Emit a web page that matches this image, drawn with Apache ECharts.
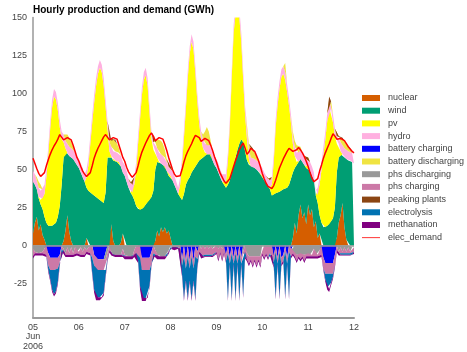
<!DOCTYPE html>
<html><head><meta charset="utf-8">
<script src="https://cdn.jsdelivr.net/npm/echarts@6/dist/echarts.min.js"></script>
<style>html,body{margin:0;padding:0;background:#fff}#c{width:467px;height:352px}</style>
</head><body><div id="c"></div>
<script>
const tickLabels = ['05\nJun\n2006','06','07','08','09','10','11','12'];
const yTicks = [-25,0,25,50,75,100,125,150];
const hours = Array.from({length:169}, (_, i) => String(i));

const nuclear = [
8,15,19,10,14,7,4,0,0,0,0,0,0,0,0,0,3,10,20,9,3,0,0,0,
0,0,0,0,5,0,0,0,0,0,0,0,0,0,0,0,0,14,3,0,0,0,2,8,
0,0,0,0,0,0,0,0,0,0,0,0,0,0,0,0,3,10,6,12,9,12,8,10,
5,0,0,0,0,0,0,0,0,0,0,0,0,0,0,0,0,0,0,0,0,0,0,0,
0,0,0,0,0,0,0,0,0,0,0,0,0,0,0,0,0,0,0,0,0,0,0,0,
0,0,0,0,0,0,0,0,0,0,0,0,0,0,0,0,5,15,8,20,27,18,22,14,
27,20,24,12,16,5,8,0,0,0,0,0,0,0,0,5,15,20,28,12,4,0,0,0,
0];
const wind = [
34,25,18,21,13,17,15,15,13,13,13,14,15,19,26,40,55,52,41,50,55,57,55,53,
51,48,45,42,33,36,35,34,33,32,31,30,29,28,35,58,57,44,53,56,55,55,50,40,
46,42,38,35,33,30,26,24,23.5,24,25,27,29,30,32,36,47,45,49,42,44,40,41,36,
41,43,40,37,34,32,30,34,40,43,45,48,50,52,54,56,57,58,59,60,61,60,56,53,
51,48,45,42,40,38,40,43,48,53,58,63,67,70,68,62,56,53,52,52,51,50,49,47,
46,43,41,39,37,33,34,34.5,35,35.5,36.5,37,37.5,38,40,44,43,36,45,35,30,37,31,37,
25,29,22,31,17,23,12,15,12,12,13,14,16,18,25,43,43,40,32,46,53,56,56,55,
54];
const pv = [
0,0,0,1,3,7,15,30,47,64,78,84,81,70,52,30,10,2,0,0,0,0,0,0,
0,0,0,0,7,17,32,47,61,73,82,87,85,77,56,19,5,1,0,0,0,0,0,0,
0,0,0,0,2,10,24,43,59.5,75,84,85,76,57,38,27,12,3,0,0,0,0,0,0,
0,0,0,0,0,8,23,37,50,67,81,86,79,61,41,24,13,6,2,0,0,0,0,0,
0,0,0,0,1,4,16,35,62,87,94,93,83,64,41,24,14,4,0,0,0,0,0,0,
0,0,0,0,1,7,21,43.5,57,67.5,74.5,76,71.5,63,52,37,19,8,2,0,0,0,0,0,
0,0,0,0,0,5,20,35,48,58,69,77,74,63,47,19,9,2,0,0,0,0,0,0,
0];
const hydro = [
7,7,6,6,6,6,6,5,5,5,5,5,5,5,5,5,5,5,6,6,6,6,6,6,
6,6,6,5,5,5,5,5,5,5,5,5,5,5,5,5,6,6,6,6,6,6,7,7,
7,7,6,6,5,5,5,5,5,5,5,5,5,5,5,5,6,6,6,6,6,6,6,6,
6,6,6,5,4,5,5,5,5,5,5,5,5,5,5,5,5,6,6,6,6,6,6,6,
6,6,5,5,5,5,5,5,5,5,6,6,6,6,6,6,6,6,6,6,6,6,6,6,
5,5,5,5,5,5,5,5,5,5,5,5,5,5,5,5,5,6,6,6,6,6,6,6,
6,6,6,5,3,5,5,5,5,5,5,5,5,5,5,5,5,6,6,6,6,6,6,6,
6];
const batteryCharging = [
0,0,0,0,0,0,0,0,-5,-8,-8,-8,-8,-8,-6,0,0,0,0,0,0,0,0,0,
0,0,0,0,0,0,0,0,-6,-9,-9,-9,-9,-9,-9,0,0,0,0,0,0,0,0,0,
0,0,0,0,0,0,0,0,0,-8,-8,-8,-8,-8,-4,0,0,0,0,0,0,0,0,0,
0,0,0,0,0,0,-9,0,-10,0,-10,0,-10,0,-4,0,0,0,0,0,0,0,0,0,
0,0,0,0,0,-6,0,-8,0,-8,0,-8,0,-8,0,0,0,0,0,0,0,0,0,0,
0,0,0,0,0,0,-7,0,-8,0,-8,-6,0,-8,0,-3,0,0,0,0,0,0,0,0,
0,0,0,0,0,0,0,0,-8,-11.5,-11.5,-11.5,-11.5,-11.5,-6,0,0,0,0,0,0,0,0,0,
0];
const batteryDischarging = [
0,0,2,4,4,0,0,0,0,0,0,0,0,0,0,0,0,3,6,6,4,2,0,0,
0,0,0,0,0,0,0,0,0,0,0,0,0,0,0,0,2,4,8,8,6,3,0,0,
0,0,0,0,0,0,0,0,0,0,0,0,0,0,0,0,0,6,9,9,8,5,2,0,
0,0,0,0,0,0,0,0,0,0,0,0,0,0,0,0,0,3,8,12,8,3,0,0,
0,0,0,0,0,0,0,0,0,0,0,0,0,0,0,0,3,4,6,6,4,3,2,0,
0,0,0,0,0,0,0,0,0,0,0,0,6,0,0,0,3,4,5,4,2,0,0,0,
0,0,0,0,0,0,0,0,0,0,0,0,0,0,0,0,0,3,5,5,4,3,2,0,
0];
const phsDischarging = [
-2,-4,-5,-5,-5,-4,-2,0,0,0,0,0,0,0,0,0,-2,-5,-1,-5,-1,-5,-1,-4,
-4,-1,-4,-1,-3,-1,0,0,0,0,0,0,0,0,0,0,0,-4,-6,-6,-6,-6,-6,-2,
-6,-7,-7,-7,-7,-3,0,0,0,0,0,0,0,0,0,0,-3,-6,-7,-7,-7,-7,-6,-3,
0,0,0,0,0,0,0,0,0,0,0,0,0,0,0,0,-2,0,-2,0,-2,0,-2,0,
0,-2,0,-2,0,0,0,0,0,0,0,0,0,0,0,0,-5,-7,-7,-7,-7,-7,-7,-7,
0,0,0,0,0,0,0,0,0,0,0,0,0,0,0,0,-3,-6,-6,-6,-5,-6,-6,-6,
-5,-6,-6,-2,-6,-6,-3,0,0,0,0,0,0,0,0,0,-4,-1,-4,-1,-4,-1,-4,-1,
-1];
const phsCharging = [
-5,-1,0,0,0,-1,-4,-6,-8,-8,-8,-8,-8,-7,-5,-2,-1,-1,-5,-1,-5,-1,-5,-1,
-1,-5,-1,-5,-1,-3,-5,-8,-7,-7,-7,-7,-7,-7,-7,-8,-3,-1,0,0,0,0,0,-4,
-1,0,0,0,0,-3,-5,-8,-8,-8,-8,-8,-8,-8,-8,-5,-3,-1,0,0,0,0,-1,-1,
-1,-1,-2,-1,-1,-2,-4,-7,-5,-7,-5,-7,-5,-7,-5,-4,-5,-7,-4,-7,-4,-7,-4,-6,
-4,-7,-4,-7,-4,-4,-5,-4,-5,-4,-5,-4,-5,-4,-5,-4,-4,-5,-2,-6,-2,-6,-2,-6,
-5,-8,-5,-8,-5,-6,-4,-4,-4,-4,-4,-4,-4,-4,-4,-4,-2,-1,-4,-1,-4,-1,-4,-1,
-1,-1,-1,-5,-1,-1,-3,-6,-7,-7,-7,-7,-7,-7,-7,-3,-1,-5,-1,-5,-1,-5,-1,-5,
-3];
const peakingPlants = [
0,0,0,0,0,0,0,0,0,0,0,0,0,0,0,0,0,0,0,0,0,0,0,0,
0,0,0,0,0,0,0,0,0,0,0,0,0,0,0,0,0,0,0,0,0,0,0,0,
0,0,0,0,0,0,0,0,0,0,0,0,0,0,0,0,0,0,0,0,0,0,0,0,
0,0,0,0,0,0,0,0,0,0,0,0,0,0,0,0,0,0,0,0,0,0,0,0,
0,0,0,0,0,0,0,0,0,0,0,0,0,0,0,0,0,0,0,0,0,0,0,0,
0,0,0,0,0,0,0,0,0,0,0,0,0,0,0,0,0,0,0,0,0,0,0,0,
0,0,0,0,0,0,0,0,0,0,0,2,0,0,0,0,0,0,0,0,0,0,0,0,
0];
const electrolysis = [
0,0,0,0,0,0,0,0,-3,-6,-13,-16,-14,-9,-1,0,0,0,0,0,0,0,0,0,
0,0,0,0,0,0,0,-10,-16,-18,-18,-18,-18,-15,-4,-1,0,0,0,0,0,0,0,0,
0,0,0,0,0,0,0,-2,-18.5,-18.5,-18.5,-18.5,-18.5,-10.5,0,0,0,0,0,0,0,0,0,0,
0,0,0,0,0,0,-6,-28,-8,-28,-8,-28,-8,-28,-5,0,0,0,0,0,0,0,0,0,
0,0,0,0,0,0,-30,0,-30,0,-30,0,-30,0,-28,-3,0,0,0,0,0,0,0,0,
0,0,0,0,0,0,-2,-30,0,-30,0,0,-30,0,-30,0,0,0,0,0,0,0,0,0,
0,0,0,0,0,0,0,0,0,-4,-9,-10,-6,-2,0,0,0,0,0,0,0,0,0,0,
0];
const methanation = [
-1.5,-1.5,-1.5,-1.5,-1.5,-1.5,-1.5,-1.5,-1.5,-1.5,-1.5,-1.5,-1.5,-1.5,-1.5,-1.5,-1.5,-1.5,-1.5,-1.5,-1.5,-1.5,-1.5,-1.5,
-1.5,-1.5,-1.5,-1.5,-1.5,-1.5,-1.5,-1.5,-2,-2,-2,-2,-2,-2,-1.5,-1.5,-1.5,-1.5,-1.5,-1.5,-1.5,-1.5,-1.5,-1.5,
-2,-2,-2,-2,-2,-1.5,-1.5,-1.5,-2,-2,-2,-2,-2,-1.5,-1.5,-1.5,-1.5,-2,-2,-2,-2,-2,-2,-1.5,
-1,-1,-1,-1,-1,-1,-1.5,-1.5,-1.5,-1.5,-1.5,-1.5,-1.5,-1.5,-1.5,-1.5,-1.5,-1.5,-1.5,-1.5,-1.5,-1.5,-1.5,-1.5,
-1.5,-1.5,-1.5,-1.5,-1.5,-1.5,-1.5,-1.5,-1.5,-1.5,-1.5,-1.5,-1.5,-1.5,-1.5,-1.5,-1.5,-1.5,-1.5,-1.5,-1.5,-1.5,-1.5,-1.5,
-1.5,-1.5,-1.5,-1.5,-1.5,-1.5,-1.5,-1.5,-1.5,-1.5,-1.5,-1.5,-1.5,-1.5,-1.5,-1.5,-1.5,-1.5,-1.5,-1.5,-1.5,-1.5,-1.5,-1.5,
-1.5,-1.5,-1.5,-1.5,-1.5,-1.5,-1.5,-1.5,-1.5,-1.5,-1.5,-2,-1.5,-1.5,-1.5,-1.5,-1.5,-1.5,-1.5,-1.5,-1.5,-1.5,-1.5,-1.5,
-1.5];
const elecDemand = [
57.5,54,50.5,47.5,45.5,45.5,48,52.5,56.5,60,63,65.5,67.5,70,73,72,69.5,69,71,71.7,69.5,66,62,58,
55.5,52,49,47,45.5,45,48,52.5,57.5,61,64,66.5,69,71.5,73,72,69.5,69,71,72,70,66,62,58,
55.5,51.5,48.5,46.5,45,45.5,48,52.5,57.5,61.5,64.5,67.5,70,72.5,74,72,69,69.5,71,71.7,70,66.5,62.5,58,
54,50,47,45.5,45,46,50,55,59,62,64.5,67,70,72.5,73,71,68.5,69.5,70.5,71,69,66,62.5,58.5,
55,51,47.5,45,42.5,41,41.5,44,48,52,56,59.5,63,65.5,67.5,64,60,61.5,64,64.5,62,59,56,52,
47.5,44,41,39,38,37.5,39.5,43,47,51,54,57,59.5,62,64,64.5,62,61,63,64.5,63,61,58.5,55.5,
52,48,44.5,42,41,44,49,53,57.5,61,64,67,70.5,73.5,72,70,69,70.5,71.5,69,67,65,63.5,62,
61];

const FONT = 'Liberation Sans, Arial, Helvetica, sans-serif';
function area(name, data, color, stack){
  return {name, type:'line', stack, data, symbol:'none', showSymbol:false,
    lineStyle:{width:0}, areaStyle:{color, opacity:1}, itemStyle:{color},
    emphasis:{disabled:true}, silent:true, animation:false};
}
const series = [
  area('nuclear', nuclear, '#d55e00', 'pos'),
  area('wind', wind, '#009e73', 'pos'),
  area('pv', pv, '#ffff00', 'pos'),
  area('hydro', hydro, '#ffb0e0', 'pos'),
  area('battery charging', batteryCharging, '#0000ff', 'neg'),
  area('battery discharging', batteryDischarging, '#f0e442', 'pos'),
  area('phs discharging', phsDischarging, '#999999', 'neg'),
  area('phs charging', phsCharging, '#cc79a7', 'neg'),
  area('peaking plants', peakingPlants, '#8b4513', 'pos'),
  area('electrolysis', electrolysis, '#0072b2', 'neg'),
  area('methanation', methanation, '#800080', 'neg'),
  {name:'elec_demand', type:'line', data: elecDemand, symbol:'none', showSymbol:false,
   lineStyle:{color:'#ff0000', width:1.5}, itemStyle:{color:'#ff0000'}, z:5,
   emphasis:{disabled:true}, silent:true, animation:false,
   markLine:{symbol:'none', silent:true, animation:false, label:{show:false},
     lineStyle:{color:'#999999', width:1.5, type:'solid'}, data:[{yAxis:0}]}}
];
const legendNames = ['nuclear','wind','pv','hydro','battery charging','battery discharging',
  'phs discharging','phs charging','peaking plants','electrolysis','methanation','elec_demand'];
const lineIcon = 'path://M0,0 M18,6 M0,2.6 L18,2.6 L18,3.4 L0,3.4 Z';

const chart = echarts.init(document.getElementById('c'), null, {renderer:'canvas'});
chart.setOption({
  animation:false,
  backgroundColor:'#ffffff',
  title:{text:'Hourly production and demand (GWh)', left:28, top:0,
    textStyle:{fontSize:10, fontWeight:'bold', color:'#000', fontFamily:FONT}},
  grid:{left:33, right:113, top:17.5, bottom:34.3},
  legend:{orient:'vertical', left:357, top:88, itemWidth:18, itemHeight:6, itemGap:2.7,
    selectedMode:false,
    textStyle:{fontSize:9, color:'#444', fontFamily:FONT, lineHeight:10, padding:[0,0,0,3]},
    data: legendNames.map(n => n==='elec_demand' ? {name:n, icon:lineIcon} : {name:n, icon:'rect'})},
  xAxis:{type:'category', data:hours, boundaryGap:false,
    axisLine:{onZero:false, lineStyle:{color:'#999', width:2}},
    axisTick:{show:false}, splitLine:{show:false},
    axisLabel:{fontSize:9, color:'#444', fontFamily:FONT, lineHeight:9.5, margin:5,
      interval:(idx)=> idx % 24 === 0,
      formatter:(v, idx)=>tickLabels[Math.round(idx/24)] || ''}},
  yAxis:{type:'value', min:-47.4, max:150,
    axisLine:{show:true, lineStyle:{color:'#999', width:1.5}},
    axisTick:{show:false}, splitLine:{show:false},
    axisLabel:{fontSize:9, color:'#444', fontFamily:FONT, margin:6, customValues:yTicks}},
  series
});
</script></body></html>
